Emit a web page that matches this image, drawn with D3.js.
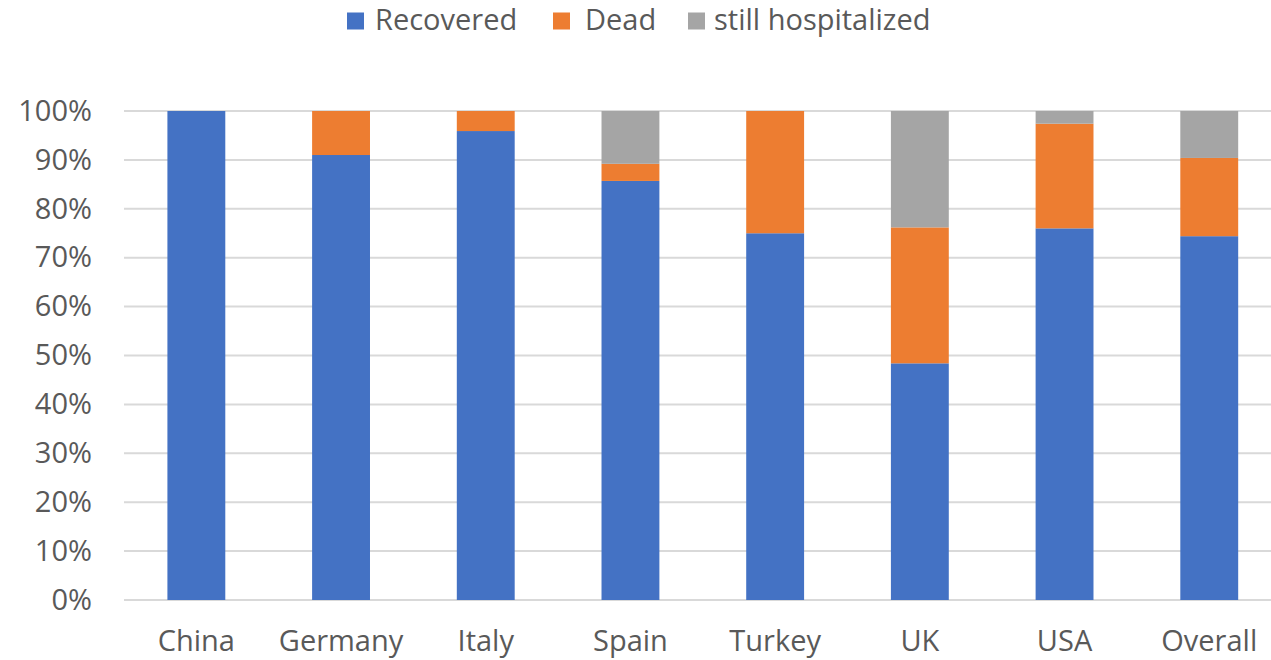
<!DOCTYPE html>
<html>
<head>
<meta charset="utf-8">
<script src="https://cdn.jsdelivr.net/npm/d3@7"></script>
<style>
  html, body { margin: 0; padding: 0; background: #fff; }
  svg { display: block; }
  text { font-family: "Open Sans", sans-serif; fill: #595959; }
</style>
</head>
<body>
<svg id="chart" width="1271" height="660"></svg>
<script>
// Outcome shares (%) per country
const countries = ["China", "Germany", "Italy", "Spain", "Turkey", "UK", "USA", "Overall"];
const recovered = [100, 91.0, 95.9, 85.7, 75.0, 48.4, 76.0, 74.4];
const dead = [0, 9.0, 4.1, 3.5, 25.0, 27.8, 21.4, 16.0];
const hospitalized = [0, 0, 0, 10.8, 0, 23.8, 2.6, 9.6];
const seriesNames = ["Recovered", "Dead", "still hospitalized"];
const seriesColors = ["#4472C4", "#ED7D31", "#A5A5A5"];
const yTicks = [0, 10, 20, 30, 40, 50, 60, 70, 80, 90, 100];

const rows = countries.map((c, i) => ({
  country: c,
  "Recovered": recovered[i],
  "Dead": dead[i],
  "still hospitalized": hospitalized[i]
}));

const svg = d3.select("#chart");
const W = 1271, H = 660;
const plotLeft = 124, plotTop = 111, plotBottom = 600;
const fontSize = 29;

// The category band runs a little past the right edge of the canvas
const x = d3.scaleBand()
  .domain(countries)
  .range([plotLeft, plotLeft + 8 * 144.7])
  .paddingInner(0.6)
  .paddingOuter(0.3);

const y = d3.scaleLinear()
  .domain([0, 100])
  .range([plotBottom, plotTop]);

// Horizontal gridlines
svg.append("g")
  .selectAll("line")
  .data(yTicks)
  .join("line")
  .attr("x1", plotLeft)
  .attr("x2", W)
  .attr("y1", d => y(d))
  .attr("y2", d => y(d))
  .attr("stroke", "#D9D9D9")
  .attr("stroke-width", 2);

// Stacked bars
const stacked = d3.stack().keys(seriesNames)(rows);
svg.append("g")
  .selectAll("g")
  .data(stacked)
  .join("g")
  .attr("fill", (d, i) => seriesColors[i])
  .selectAll("rect")
  .data(d => d)
  .join("rect")
  .attr("x", d => x(d.data.country))
  .attr("width", x.bandwidth())
  .attr("y", d => y(d[1]))
  .attr("height", d => y(d[0]) - y(d[1]));

// Y axis labels
const yAxis = d3.axisLeft(y)
  .tickValues(yTicks)
  .tickFormat(d => d + "%")
  .tickSize(0)
  .tickPadding(0);
const gy = svg.append("g")
  .attr("transform", `translate(92,0)`)
  .call(yAxis);
gy.select(".domain").remove();
gy.selectAll("text")
  .attr("font-size", fontSize)
  .attr("font-family", "'Open Sans', sans-serif")
  .attr("fill", "#595959");

// X axis labels
const xAxis = d3.axisBottom(x).tickSize(0).tickPadding(0);
const gx = svg.append("g")
  .attr("transform", `translate(0,${651 - 0.71 * fontSize})`)
  .call(xAxis);
gx.select(".domain").remove();
gx.selectAll("text")
  .attr("font-size", fontSize)
  .attr("font-family", "'Open Sans', sans-serif")
  .attr("fill", "#595959");

// Legend
const legendSwatchX = [347, 553, 688];
const legendTextX = [375, 585, 714];
const legend = svg.append("g");
seriesNames.forEach((name, i) => {
  legend.append("rect")
    .attr("x", legendSwatchX[i])
    .attr("y", 12.5)
    .attr("width", 17)
    .attr("height", 17)
    .attr("fill", seriesColors[i]);
  legend.append("text")
    .attr("x", legendTextX[i])
    .attr("y", 30)
    .attr("font-size", fontSize)
    .text(name);
});
</script>
</body>
</html>
